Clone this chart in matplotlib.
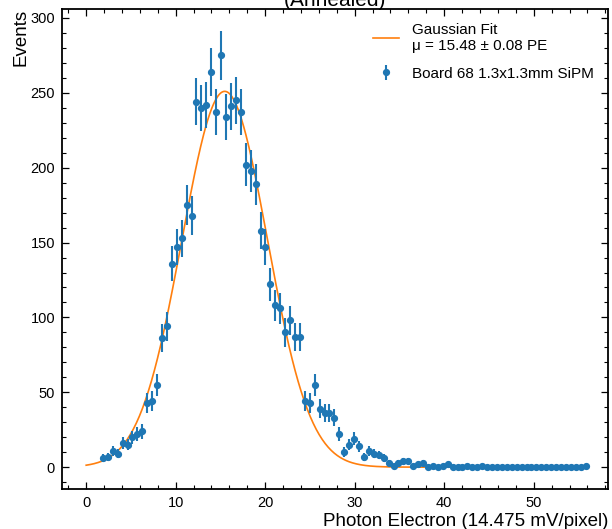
import numpy as np
import matplotlib
matplotlib.use("Agg")
import matplotlib.pyplot as plt
from matplotlib.ticker import MultipleLocator

plt.rcParams['font.family'] = ['Liberation Sans', 'DejaVu Sans']

# ---- data ----
bin_start = 1.87
bin_width = 0.5503
counts = [6, 7, 11, 9, 16, 15, 20, 22, 24, 43, 44, 55, 86, 94, 136, 147, 153, 175, 168,
          244, 240, 242, 264, 237, 275, 234, 241, 245, 237, 202, 198, 189, 158, 147, 122,
          108, 106, 90, 98, 87, 87, 44, 43, 55, 39, 36, 36, 33, 22,
          10, 15, 19, 14, 7, 11, 9, 8, 6, 3, 1, 3, 4, 4, 1, 2, 3, 0, 1, 0, 1, 2, 0, 0, 0,
          1, 0, 0, 1,
          0, 0, 0, 0, 0, 0, 0, 0, 0, 0, 0, 0, 0, 0, 0, 0, 0, 0, 0, 0,
          1]
fit_amp = 251.0
fit_mu = 15.48
fit_mu_err = 0.08
fit_sigma = 4.77
fit_range = (0.0, 56.0)

x = bin_start + bin_width * np.arange(len(counts))
y = np.array(counts, dtype=float)
yerr = np.sqrt(y)

xf = np.linspace(fit_range[0], fit_range[1], 500)
yf = fit_amp * np.exp(-(xf - fit_mu) ** 2 / (2 * fit_sigma ** 2))

fig = plt.figure(figsize=(6.12, 5.29), dpi=100)
ax = fig.add_axes([62 / 612, 40 / 529, 546 / 612, 480 / 529])

ax.plot(xf, yf, color='#ff7f0e', lw=1.2,
        label=f"Gaussian Fit\nμ = {fit_mu:.2f} ± {fit_mu_err:.2f} PE")
ax.errorbar(x, y, yerr=yerr, fmt='o', color='#1f77b4', markersize=4.2,
            elinewidth=1.5, capsize=0, label='Board 68 1.3x1.3mm SiPM')

ax.set_xlim(-2.7, 58.3)
ax.set_ylim(-14.6, 306)

ax.xaxis.set_major_locator(MultipleLocator(10))
ax.xaxis.set_minor_locator(MultipleLocator(2))
ax.yaxis.set_major_locator(MultipleLocator(50))
ax.yaxis.set_minor_locator(MultipleLocator(10))
ax.tick_params(which='both', direction='in', top=True, right=True, labelsize=10.5)
ax.tick_params(which='major', length=5, width=0.9, pad=5)
ax.tick_params(which='minor', length=2.8, width=0.8)
for s in ax.spines.values():
    s.set_linewidth(1.3)

ax.set_xlabel('Photon Electron (14.475 mV/pixel)', loc='right', fontsize=13.5, labelpad=2)
ax.set_ylabel('Events', loc='top', fontsize=13.5, labelpad=1)

leg = ax.legend(loc='upper right', frameon=False, fontsize=11, handlelength=1.7,
                handletextpad=0.9, borderaxespad=0.5, labelspacing=0.9)

fig.text(335 / 612, 1 - 6 / 529, '(Annealed)', ha='center', va='baseline', fontsize=15)

fig.savefig('out.png', dpi=100)
